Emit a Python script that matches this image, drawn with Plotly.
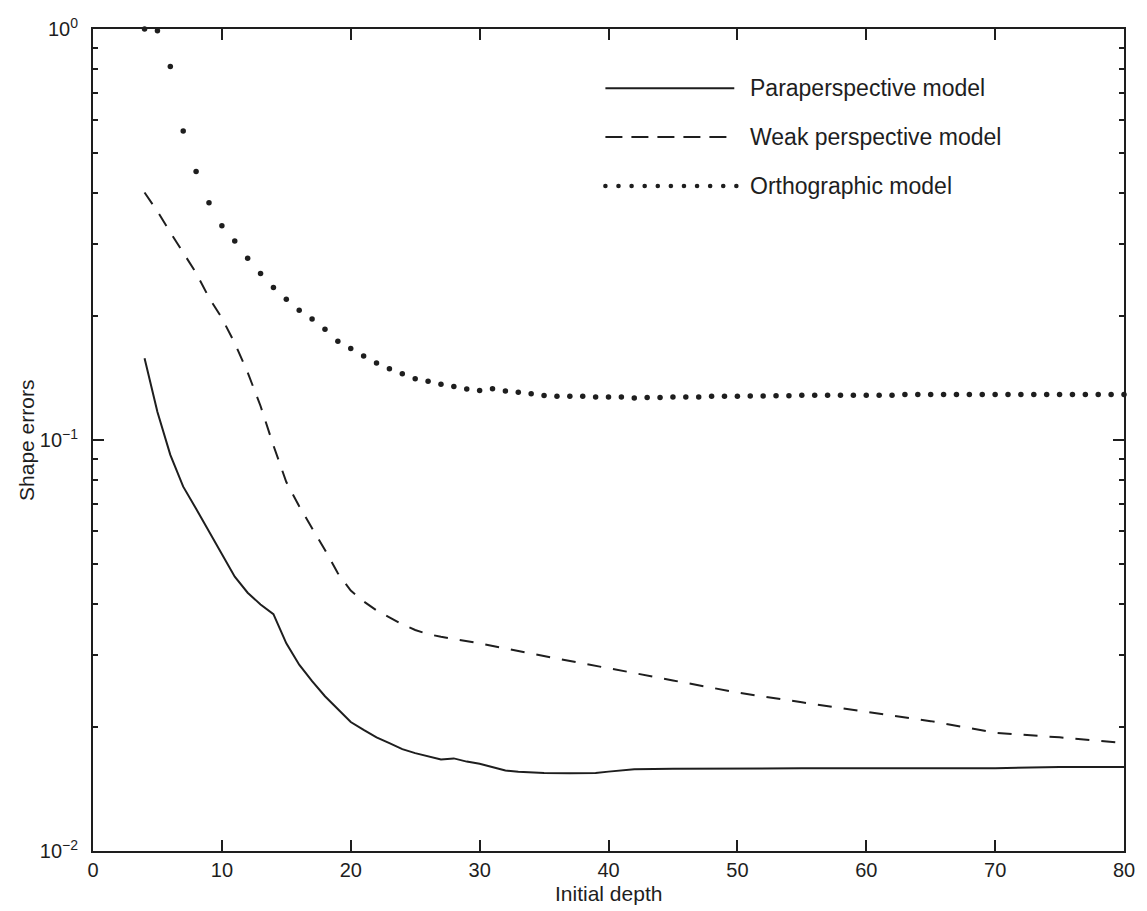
import plotly.graph_objects as go

# ---------------- data ----------------
para_x = [4, 5, 6, 7, 8, 9, 10, 11, 12, 13, 14, 15, 16, 17, 18, 19, 20, 21, 22, 23, 24, 25,
          26, 27, 28, 29, 30, 31, 32, 33, 35, 37, 39, 40, 42, 45, 50, 55, 60, 65, 70, 75, 80]
para_y = [0.158, 0.117, 0.092, 0.077, 0.068, 0.060, 0.053, 0.0465, 0.0425, 0.0398, 0.0377,
          0.032, 0.0284, 0.0259, 0.0238, 0.0221, 0.0206, 0.0197, 0.0189, 0.0183, 0.0177,
          0.0173, 0.0170, 0.0167, 0.0168, 0.0165, 0.0163, 0.0160, 0.0157, 0.0156, 0.01548,
          0.01545, 0.01548, 0.0156, 0.0158, 0.01585, 0.0159, 0.0159, 0.0159, 0.0159,
          0.0159, 0.0160, 0.0160]

weak_x = [4, 5, 6, 7, 8, 9, 10, 11, 12, 13, 14, 15, 16, 17, 18, 19, 20, 21, 22, 23, 24, 25,
          26, 27, 28, 29, 30, 32, 34, 36, 38, 40, 42, 45, 50, 55, 60, 65, 70, 75, 80]
weak_y = [0.40, 0.36, 0.32, 0.285, 0.255, 0.222, 0.198, 0.172, 0.146, 0.121, 0.097, 0.079,
          0.069, 0.061, 0.054, 0.0474, 0.043, 0.0405, 0.0385, 0.0370, 0.0356, 0.0345,
          0.0337, 0.0332, 0.0328, 0.0324, 0.0320, 0.0311, 0.0303, 0.0294, 0.0286, 0.0279,
          0.0271, 0.0260, 0.0243, 0.0230, 0.0218, 0.0207, 0.0194, 0.0189, 0.0183]

ortho_x = list(range(4, 81))
ortho_y = [1.0, 0.99, 0.81, 0.565, 0.45, 0.378, 0.332, 0.305, 0.277, 0.254, 0.235, 0.22,
           0.207, 0.197, 0.186, 0.174, 0.167, 0.160, 0.154, 0.149, 0.145, 0.141, 0.139,
           0.1366, 0.135, 0.133,
           0.132, 0.1332, 0.1316, 0.1307, 0.1295, 0.1283, 0.1277, 0.1277, 0.1277, 0.1272,
           0.1272, 0.1272, 0.1265, 0.1268, 0.1268, 0.1272, 0.1272, 0.1272, 0.1277, 0.1277,
           0.1277, 0.128, 0.128, 0.1282, 0.1282,
           0.1285, 0.1285, 0.1285, 0.1285, 0.1285, 0.1285, 0.1285, 0.1285,
           0.129, 0.129, 0.129, 0.129, 0.129, 0.129, 0.129, 0.129, 0.129, 0.129,
           0.129, 0.129, 0.129, 0.129, 0.129, 0.129, 0.129, 0.129, 0.129]

x_ticks = [0, 10, 20, 30, 40, 50, 60, 70, 80]
y_ticks = [0.01, 0.1, 1]
y_ticktext = ["10<sup>−2</sup>", "10<sup>−1</sup>", "10<sup>0</sup>"]
y_minor = [0.02, 0.03, 0.04, 0.05, 0.06, 0.07, 0.08, 0.09,
           0.2, 0.3, 0.4, 0.5, 0.6, 0.7, 0.8, 0.9]

legend_names = ["Paraperspective model", "Weak perspective model", "Orthographic model"]

# ---------------- figure ----------------
INK = "#1e1e1e"
FONT = "Liberation Sans, Arial, Helvetica, sans-serif"
DASH = "14px,12px"
TXT = 21
LEG_TXT = 23

fig = go.Figure()
fig.add_trace(go.Scatter(x=para_x, y=para_y, mode="lines",
                         line=dict(color=INK, width=2), name=legend_names[0]))
fig.add_trace(go.Scatter(x=weak_x, y=weak_y, mode="lines",
                         line=dict(color=INK, width=2, dash=DASH), name=legend_names[1]))
fig.add_trace(go.Scatter(x=ortho_x, y=ortho_y, mode="markers", cliponaxis=False,
                         marker=dict(color=INK, size=5.5), name=legend_names[2]))

# manual legend (paper coordinates)
leg_x0, leg_x1, text_x = 0.497, 0.622, 0.635
leg_rows = [0.928, 0.8686, 0.809]
fig.add_shape(type="line", xref="paper", yref="paper", x0=leg_x0, x1=leg_x1,
              y0=leg_rows[0], y1=leg_rows[0], line=dict(color=INK, width=2))
fig.add_shape(type="line", xref="paper", yref="paper", x0=leg_x0, x1=leg_x1,
              y0=leg_rows[1], y1=leg_rows[1], line=dict(color=INK, width=2, dash="17px,9px"))
n_dots = 11
for i in range(n_dots):
    cx = leg_x0 + (leg_x1 - leg_x0 + 0.002) * i / (n_dots - 1)
    fig.add_shape(type="circle", xref="paper", yref="paper",
                  xsizemode="pixel", ysizemode="pixel",
                  xanchor=cx, yanchor=leg_rows[2],
                  x0=-2.3, x1=2.3, y0=-2.3, y1=2.3,
                  fillcolor=INK, line=dict(width=0))
for name, yy in zip(legend_names, leg_rows):
    fig.add_annotation(x=text_x, y=yy, xref="paper", yref="paper", text=name,
                       showarrow=False, xanchor="left", yanchor="middle",
                       font=dict(size=LEG_TXT, color=INK, family=FONT))

# axis titles
fig.add_annotation(x=0.5, y=-0.052, xref="paper", yref="paper", text="Initial depth",
                   showarrow=False, xanchor="center", yanchor="middle",
                   font=dict(size=TXT, color=INK, family=FONT))
fig.add_annotation(x=-0.065, y=0.5, xref="paper", yref="paper", text="Shape errors",
                   showarrow=False, textangle=-90, xanchor="center", yanchor="middle",
                   font=dict(size=TXT, color=INK, family=FONT))

fig.update_layout(
    width=1147, height=911,
    margin=dict(l=93, r=20, t=29, b=60),
    paper_bgcolor="white", plot_bgcolor="white",
    showlegend=False,
    font=dict(family=FONT, color=INK, size=20),
)
fig.update_xaxes(
    range=[0, 80], tickvals=x_ticks, ticks="inside", ticklen=11, tickwidth=1.5,
    tickcolor=INK, showline=True, linecolor=INK, linewidth=2, mirror="ticks",
    showgrid=False, zeroline=False, tickfont=dict(size=20),
)
fig.update_yaxes(
    type="log", range=[-2, 0], tickvals=y_ticks, ticktext=y_ticktext,
    ticks="inside", ticklen=11, tickwidth=1.5, tickcolor=INK,
    minor=dict(ticks="inside", ticklen=5, tickwidth=1.5, tickcolor=INK,
               tickmode="array", tickvals=y_minor, showgrid=False),
    showline=True, linecolor=INK, linewidth=2, mirror="ticks",
    showgrid=False, zeroline=False, tickfont=dict(size=20), ticklabelstandoff=9,
)

fig.write_html("out.html")
